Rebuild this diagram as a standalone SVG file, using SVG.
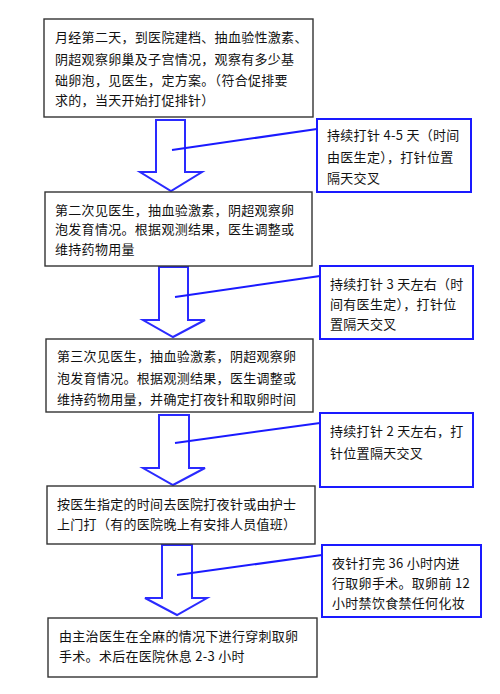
<svg xmlns="http://www.w3.org/2000/svg" width="500" height="694" viewBox="0 0 500 694">
<style>
.box{fill:#fff;stroke:#333;stroke-width:1.4}
.call{fill:#fff;stroke:#1a1aff;stroke-width:2}
.arr{fill:#fff;stroke:#2a2aff;stroke-width:2;stroke-linejoin:miter}
.ln{stroke:#1a1aff;stroke-width:2;fill:none}
text{font-family:"Noto Sans CJK SC","Noto Sans",sans-serif;font-size:13px;letter-spacing:0.3px;fill:#111;dominant-baseline:central}
</style>
<rect width="500" height="694" fill="#fff"/>
<g id="connectors">
<polygon class="arr" points="156,120 185,120 185,172 202,172 171,191 140,172 156,172"/>
<polygon class="arr" points="159,267 188,267 188,320 205,320 173,337 143,320 159,320"/>
<polygon class="arr" points="159,415 189,415 189,468 205,468 173,485 143,468 159,468"/>
<polygon class="arr" points="162,545 192,545 192,598 207,598 177,615 145,598 162,598"/>
<line class="ln" x1="317" y1="129" x2="172" y2="150"/>
<line class="ln" x1="320" y1="276" x2="175" y2="297"/>
<line class="ln" x1="320" y1="423" x2="175" y2="443"/>
<line class="ln" x1="322" y1="555" x2="177" y2="575"/>
</g>
<g id="n1">
<rect class="box" x="44" y="19" width="269" height="98"/>
<text x="55" y="36">月经第二天，到医院建档、抽血验性激素、</text>
<text x="55" y="58">阴超观察卵巢及子宫情况，观察有多少基</text>
<text x="55" y="79">础卵泡，见医生，定方案。（符合促排要</text>
<text x="55" y="99">求的，当天开始打促排针）</text>
</g>
<g id="c1">
<rect class="call" x="317" y="119" width="154" height="73"/>
<text x="327" y="134">持续打针 4-5 天（时间</text>
<text x="327" y="156">由医生定），打针位置</text>
<text x="327" y="177">隔天交叉</text>
</g>
<g id="n2">
<rect class="box" x="45" y="192" width="267" height="74"/>
<text x="55" y="209">第二次见医生，抽血验激素，阴超观察卵</text>
<text x="55" y="228">泡发育情况。根据观测结果，医生调整或</text>
<text x="55" y="248">维持药物用量</text>
</g>
<g id="c2">
<rect class="call" x="320" y="266" width="153" height="73"/>
<text x="330" y="283">持续打针 3 天左右（时</text>
<text x="330" y="303">间有医生定），打针位</text>
<text x="330" y="323">置隔天交叉</text>
</g>
<g id="n3">
<rect class="box" x="46" y="339" width="267" height="73"/>
<text x="57" y="355">第三次见医生，抽血验激素，阴超观察卵</text>
<text x="57" y="377">泡发育情况。根据观测结果，医生调整或</text>
<text x="57" y="398">维持药物用量，并确定打夜针和取卵时间</text>
</g>
<g id="c3">
<rect class="call" x="320" y="413" width="153" height="74"/>
<text x="330" y="430">持续打针 2 天左右，打</text>
<text x="330" y="452">针位置隔天交叉</text>
</g>
<g id="n4">
<rect class="box" x="47" y="486" width="268" height="58"/>
<text x="57" y="503">按医生指定的时间去医院打夜针或由护士</text>
<text x="57" y="523">上门打（有的医院晚上有安排人员值班）</text>
</g>
<g id="c4">
<rect class="call" x="322" y="545" width="159" height="72"/>
<text x="332" y="562">夜针打完 36 小时内进</text>
<text x="332" y="582">行取卵手术。取卵前 12</text>
<text x="332" y="602">小时禁饮食禁任何化妆</text>
</g>
<g id="n5">
<rect class="box" x="48" y="618" width="269" height="59"/>
<text x="59" y="635">由主治医生在全麻的情况下进行穿刺取卵</text>
<text x="59" y="655">手术。术后在医院休息 2-3 小时</text>
</g>
</svg>
